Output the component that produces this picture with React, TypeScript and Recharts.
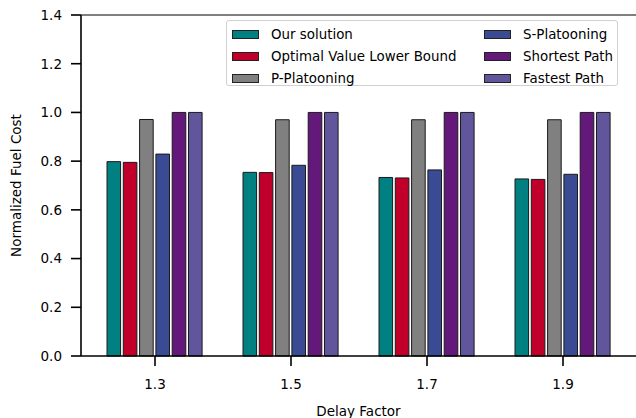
import { BarChart, Bar, XAxis, YAxis, Legend, ReferenceLine } from 'recharts';

// Delay factors on the x axis
const categories = ['1.3', '1.5', '1.7', '1.9'];

// Normalized fuel cost per method
const ourSolution = [0.798, 0.754, 0.733, 0.727];
const lowerBound = [0.795, 0.753, 0.731, 0.725];
const pPlatooning = [0.971, 0.970, 0.970, 0.970];
const sPlatooning = [0.829, 0.783, 0.764, 0.746];
const shortestPath = [1.0, 1.0, 1.0, 1.0];
const fastestPath = [1.0, 1.0, 1.0, 1.0];

const yTicks = [0, 0.2, 0.4, 0.6, 0.8, 1.0, 1.2, 1.4];

const series = [
  { key: 'ours', name: 'Our solution', values: ourSolution, color: '#008080' },
  { key: 'lower', name: 'Optimal Value Lower Bound', values: lowerBound, color: '#C0002A' },
  { key: 'pplat', name: 'P-Platooning', values: pPlatooning, color: '#808080' },
  { key: 'splat', name: 'S-Platooning', values: sPlatooning, color: '#3A4A93' },
  { key: 'short', name: 'Shortest Path', values: shortestPath, color: '#63187A' },
  { key: 'fast', name: 'Fastest Path', values: fastestPath, color: '#61569C' },
];

const data = categories.map((c, i) => {
  const row: any = { delay: c };
  series.forEach(s => { row[s.key] = s.values[i]; });
  return row;
});

const FONT = '"DejaVu Sans", sans-serif';

// legend in matplotlib order: column-major, 3 rows x 2 columns
const LegendBox = () => {
  const rows = [0, 1, 2];
  const swatch = (color: string) => (
    <span style={{ display: 'inline-block', width: 27, height: 9, background: color, border: '1px solid #222', boxSizing: 'border-box', marginRight: 12 }} />
  );
  return (
    <div style={{ width: 392, height: 66, border: '1px solid #d0d0d0', borderRadius: 3, background: 'rgba(255,255,255,0.85)', boxSizing: 'border-box', padding: '3px 0 0 5px', fontFamily: FONT, fontSize: 13.4, color: '#000' }}>
      {rows.map(r => (
        <div key={r} style={{ display: 'flex', alignItems: 'center', height: 21.7 }}>
          <div style={{ width: 252, display: 'flex', alignItems: 'center' }}>
            {swatch(series[r].color)}{series[r].name}
          </div>
          <div style={{ display: 'flex', alignItems: 'center' }}>
            {swatch(series[r + 3].color)}{series[r + 3].name}
          </div>
        </div>
      ))}
    </div>
  );
};

export default function App() {
  const axisStroke = { stroke: '#000', strokeWidth: 1.6 };
  return (
    <div style={{ position: 'absolute', left: 0, top: 0, width: 636, height: 418, overflow: 'hidden', background: '#fff' }}>
      <BarChart
        width={637}
        height={418}
        data={data}
        margin={{ top: 15, right: 1, bottom: 0, left: 0 }}
        barSize={13.6}
        barGap={2.7}
      >
        <XAxis
          dataKey="delay"
          height={62}
          padding={{ left: 6, right: 5 }}
          tickSize={10}
          tickMargin={13}
          axisLine={axisStroke}
          tickLine={axisStroke}
          tick={{ fill: '#000', fontSize: 13.5, fontFamily: FONT }}
          label={{ value: 'Delay Factor', position: 'insideBottom', offset: 2, fill: '#000', fontSize: 13.5, fontFamily: FONT }}
        />
        <YAxis
          width={81}
          domain={[0, 1.4]}
          ticks={yTicks}
          tickFormatter={(v: number) => v.toFixed(1)}
          tickSize={10}
          tickMargin={9}
          axisLine={axisStroke}
          tickLine={axisStroke}
          tick={{ fill: '#000', fontSize: 13.5, fontFamily: FONT }}
          label={{ value: 'Normalized Fuel Cost', angle: -90, position: 'insideLeft', offset: 16, fill: '#000', fontSize: 13.5, fontFamily: FONT, style: { textAnchor: 'middle' } }}
        />
        <YAxis yAxisId="right" orientation="right" width={0} domain={[0, 1.4]} tick={false} tickLine={false} axisLine={{ stroke: '#000', strokeWidth: 1 }} />
        <ReferenceLine y={1.4} stroke="#000" strokeWidth={1} ifOverflow="extendDomain" />
        {series.map(s => (
          <Bar
            key={s.key}
            dataKey={s.key}
            name={s.name}
            fill={s.color}
            stroke="#1a1a1a"
            strokeWidth={1}
            isAnimationActive={false}
          />
        ))}
        <Legend
          layout="vertical"
          align="center"
          verticalAlign="middle"
          wrapperStyle={{ left: 226, top: 20, width: 392, height: 66 }}
          content={() => <LegendBox />}
        />
      </BarChart>
    </div>
  );
}
